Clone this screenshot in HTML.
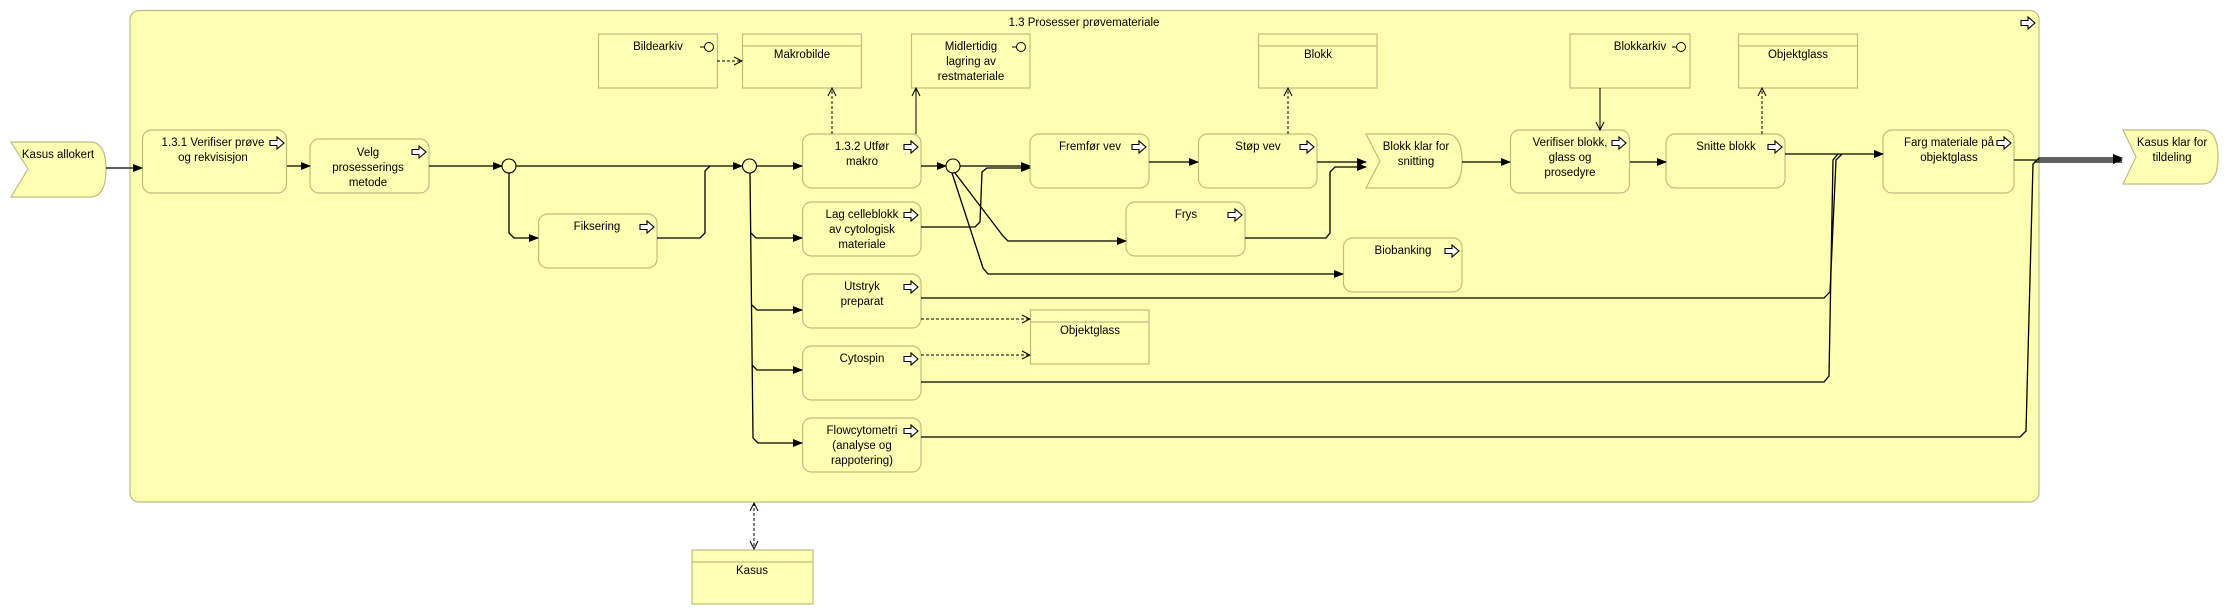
<!DOCTYPE html>
<html><head><meta charset="utf-8"><style>
html,body{margin:0;padding:0;background:#fff;}
svg{display:block;}
text{font-family:"Liberation Sans",sans-serif;font-size:11.5px;fill:#000;}
</style></head><body>
<svg width="2229" height="615" viewBox="0 0 2229 615" xmlns="http://www.w3.org/2000/svg">
<defs>
<marker id="fa" markerWidth="10" markerHeight="10" refX="9" refY="5" orient="auto" markerUnits="userSpaceOnUse"><path d="M0,1 L10,5 L0,9 Z" fill="#000"/></marker>
<marker id="oa" markerWidth="10" markerHeight="10" refX="9" refY="5" orient="auto" markerUnits="userSpaceOnUse"><path d="M1,1 L9,5 L1,9" fill="none" stroke="#000" stroke-width="1"/></marker>
<marker id="os" markerWidth="10" markerHeight="10" refX="1" refY="5" orient="auto" markerUnits="userSpaceOnUse"><path d="M9,1 L1,5 L9,9" fill="none" stroke="#000" stroke-width="1"/></marker>
<g id="pi"><path d="M-7,-2.5 L0,-2.5 L0,-6 L7,0 L0,6 L0,2.5 L-7,2.5 Z" fill="#fff" stroke="#000" stroke-width="1.1"/></g>
<g id="lp"><line x1="-9" y1="0" x2="-4" y2="0" stroke="#000"/><circle cx="0" cy="0" r="4.5" fill="#ffffb4" stroke="#000"/></g>
</defs>
<g fill="#ffffb4" stroke="#bdbd82" stroke-width="1.2">
<rect x="130" y="10.5" width="1909" height="491.5" rx="9"/>
<!-- events -->
<path d="M11,142 L90,142 Q106,142 106,169 Q106,197 90,197 L11,197 L28,169 Z"/>
<path d="M1366,134 L1446,134 Q1462,134 1462,161 Q1462,188 1446,188 L1366,188 L1380,161 Z"/>
<path d="M2123,130 L2202,130 Q2218,130 2218,157 Q2218,184 2202,184 L2123,184 L2136,157 Z"/>
<!-- processes -->
<rect x="142.5" y="130" width="144" height="63" rx="9"/>
<rect x="310" y="139" width="119" height="54" rx="9"/>
<rect x="538.5" y="214" width="118.5" height="54" rx="9"/>
<rect x="802.5" y="134" width="118.5" height="54" rx="9"/>
<rect x="802.5" y="202" width="118.5" height="54" rx="9"/>
<rect x="802.5" y="274" width="118.5" height="54" rx="9"/>
<rect x="802.5" y="346" width="118.5" height="54" rx="9"/>
<rect x="802.5" y="418" width="118.5" height="54" rx="9"/>
<rect x="1030" y="134" width="119" height="54" rx="9"/>
<rect x="1198.5" y="134" width="118.5" height="54" rx="9"/>
<rect x="1126" y="202" width="119" height="54" rx="9"/>
<rect x="1343.5" y="238" width="118.5" height="54" rx="9"/>
<rect x="1510.5" y="130" width="119" height="63" rx="9"/>
<rect x="1666" y="134" width="119" height="54" rx="9"/>
<rect x="1883" y="130" width="131" height="63" rx="9"/>
<!-- data / systems -->
<rect x="598.5" y="34" width="119" height="54"/>
<rect x="742.5" y="34" width="119" height="54"/>
<rect x="911.5" y="34" width="118.5" height="54"/>
<rect x="1258.5" y="34" width="118.5" height="54"/>
<rect x="1570" y="34" width="120" height="54"/>
<rect x="1738.5" y="34" width="119" height="54"/>
<rect x="1030.5" y="310" width="118.5" height="54"/>
<rect x="692" y="550" width="121" height="54"/>
<line x1="742.5" y1="46" x2="861.5" y2="46"/>
<line x1="1258.5" y1="46" x2="1377" y2="46"/>
<line x1="1738.5" y1="46" x2="1857.5" y2="46"/>
<line x1="1030.5" y1="322" x2="1149" y2="322"/>
<line x1="692" y1="562" x2="813" y2="562"/>
</g>
<!-- connectors -->
<g fill="none" stroke="#000" stroke-width="1.3">
<polyline points="106,168 142,168" marker-end="url(#fa)"/>
<polyline points="287,166 310,166" marker-end="url(#fa)"/>
<polyline points="429,166 502,166" marker-end="url(#fa)"/>
<polyline points="516,166 742,166" marker-end="url(#fa)"/>
<polyline points="509,173 509,233 514,238 538,238" marker-end="url(#fa)"/>
<polyline points="657,238 700,238 705,233 705,171 710,166"/>
<polyline points="756,166 802,166" marker-end="url(#fa)"/>
<polyline points="750,173 753,438"/>
<polyline points="751,233 756,238 802,238" marker-end="url(#fa)"/>
<polyline points="752,305 757,310 802,310" marker-end="url(#fa)"/>
<polyline points="752,365 757,370 802,370" marker-end="url(#fa)"/>
<polyline points="753,438 758,443 802,443" marker-end="url(#fa)"/>
<polyline points="921,166 946,166" marker-end="url(#fa)"/>
<polyline points="960,166 1030,166" marker-end="url(#fa)"/>
<polyline points="921,227 975,227 980,222 982,172 987,168 1030,168" marker-end="url(#fa)"/>
<polyline points="955,173 1003,236 1008,241 1126,241" marker-end="url(#fa)"/>
<polyline points="952,173 983,268 988,274 1343,274" marker-end="url(#fa)"/>
<polyline points="1149,162 1198,162" marker-end="url(#fa)"/>
<polyline points="1317,162 1366,162" marker-end="url(#fa)"/>
<polyline points="1245,238 1326,238 1330,233 1330,172 1335,167 1366,167" marker-end="url(#fa)"/>
<polyline points="1462,162 1510,162" marker-end="url(#fa)"/>
<polyline points="1630,162 1666,162" marker-end="url(#fa)"/>
<polyline points="1785,154 1883,154" marker-end="url(#fa)"/>
<polyline points="921,298 1824,298 1830,292 1836,160 1842,154"/>
<polyline points="921,382 1824,382 1829,376 1833,160 1838,154"/>
<polyline points="921,437 2020,437 2026,431 2033,164 2039,158 2122,158" marker-end="url(#fa)"/>
<polyline points="2014,160 2122,160" marker-end="url(#fa)"/>
<polyline points="2035,162 2122,162"/>
<polyline points="916,134 916,88" stroke-width="1" marker-end="url(#oa)"/>
<polyline points="1600,88 1600,130" stroke-width="1" marker-end="url(#oa)"/>
</g>
<g fill="none" stroke="#000" stroke-width="1" stroke-dasharray="3,2">
<polyline points="832,134 832,88" marker-end="url(#oa)"/>
<polyline points="1288,134 1288,88" marker-end="url(#oa)"/>
<polyline points="1762,134 1762,88" marker-end="url(#oa)"/>
<polyline points="717,61 742,61" marker-end="url(#oa)"/>
<polyline points="921,319 1030,319" marker-end="url(#oa)"/>
<polyline points="921,355 1030,355" marker-end="url(#oa)"/>
<polyline points="754,503 754,549" marker-start="url(#os)" marker-end="url(#oa)"/>
</g>
<!-- gateways -->
<g fill="#ffffb4" stroke="#000" stroke-width="1.1">
<circle cx="509" cy="166" r="7"/>
<circle cx="749.5" cy="166" r="7"/>
<circle cx="953" cy="166" r="7"/>
</g>
<!-- icons -->
<use href="#pi" x="2028" y="23"/>
<use href="#pi" x="277" y="143"/>
<use href="#pi" x="419" y="152"/>
<use href="#pi" x="647" y="227"/>
<use href="#pi" x="911" y="147"/>
<use href="#pi" x="911" y="215"/>
<use href="#pi" x="911" y="287"/>
<use href="#pi" x="911" y="359"/>
<use href="#pi" x="911" y="431"/>
<use href="#pi" x="1139" y="147"/>
<use href="#pi" x="1307" y="147"/>
<use href="#pi" x="1235" y="215"/>
<use href="#pi" x="1452" y="251"/>
<use href="#pi" x="1619" y="143"/>
<use href="#pi" x="1775" y="147"/>
<use href="#pi" x="2004" y="143"/>
<use href="#lp" x="709" y="47"/>
<use href="#lp" x="1021" y="47"/>
<use href="#lp" x="1681" y="47"/>
<!-- labels -->
<g text-anchor="middle">
<text x="1084" y="26">1.3 Prosesser prøvemateriale</text>
<text x="58" y="158">Kasus allokert</text>
<text x="213" y="146">1.3.1 Verifiser prøve</text>
<text x="213" y="161">og rekvisisjon</text>
<text x="368" y="156">Velg</text>
<text x="368" y="171">prosesserings</text>
<text x="368" y="186">metode</text>
<text x="597" y="230">Fiksering</text>
<text x="658" y="50">Bildearkiv</text>
<text x="802" y="58">Makrobilde</text>
<text x="971" y="50">Midlertidig</text>
<text x="971" y="65">lagring av</text>
<text x="971" y="80">restmateriale</text>
<text x="1318" y="58">Blokk</text>
<text x="1640" y="50">Blokkarkiv</text>
<text x="1798" y="58">Objektglass</text>
<text x="1090" y="334">Objektglass</text>
<text x="752" y="574">Kasus</text>
<text x="862" y="150">1.3.2 Utfør</text>
<text x="862" y="165">makro</text>
<text x="862" y="218">Lag celleblokk</text>
<text x="862" y="233">av cytologisk</text>
<text x="862" y="248">materiale</text>
<text x="862" y="290">Utstryk</text>
<text x="862" y="305">preparat</text>
<text x="862" y="362">Cytospin</text>
<text x="862" y="434">Flowcytometri</text>
<text x="862" y="449">(analyse og</text>
<text x="862" y="464">rappotering)</text>
<text x="1090" y="150">Fremfør vev</text>
<text x="1258" y="150">Støp vev</text>
<text x="1186" y="218">Frys</text>
<text x="1403" y="254">Biobanking</text>
<text x="1416" y="150">Blokk klar for</text>
<text x="1416" y="165">snitting</text>
<text x="1570" y="146">Verifiser blokk,</text>
<text x="1570" y="161">glass og</text>
<text x="1570" y="176">prosedyre</text>
<text x="1726" y="150">Snitte blokk</text>
<text x="1949" y="146">Farg materiale på</text>
<text x="1949" y="161">objektglass</text>
<text x="2172" y="146">Kasus klar for</text>
<text x="2172" y="161">tildeling</text>
</g>
</svg>
</body></html>
